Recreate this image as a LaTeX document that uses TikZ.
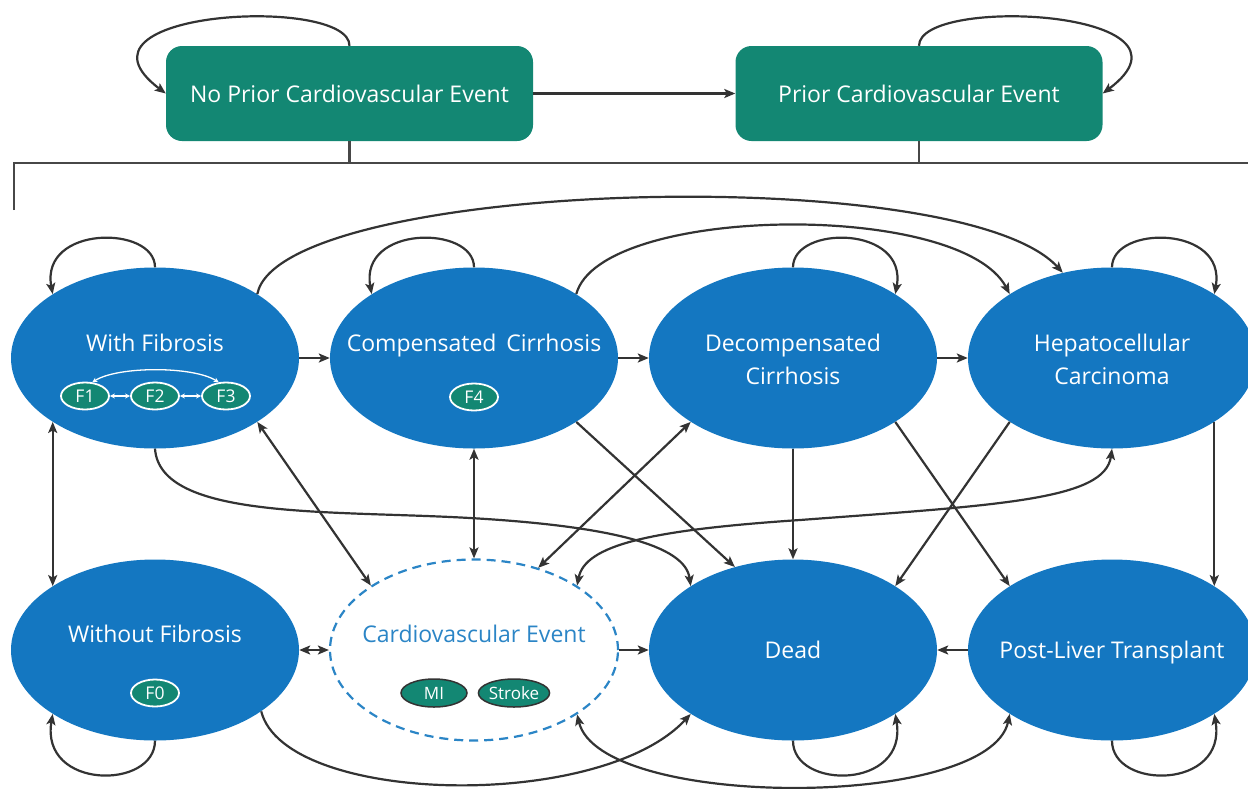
\documentclass[tikz,border=0pt]{standalone}
\usepackage{fontspec}
\setmainfont{Open Sans}
\usetikzlibrary{shapes.geometric,arrows.meta}
\definecolor{tealbox}{HTML}{138773}
\definecolor{blueell}{HTML}{1477C1}
\definecolor{cvblue}{HTML}{2B85C6}
\definecolor{connc}{HTML}{333333}
\begin{document}
\begin{tikzpicture}[x=1pt,y=-1pt,
  >={Stealth[length=11pt,width=9pt,inset=2.5pt]},
  boxnode/.style={rectangle, rounded corners=16pt, fill=tealbox, minimum width=367pt, minimum height=95pt, inner sep=0pt, text=white, font=\fontsize{23}{27}\selectfont},
  bigell/.style={ellipse, fill=blueell, minimum width=288pt, minimum height=181pt, inner sep=0pt},
  lbl/.style={text=white, font=\fontsize{23}{27}\selectfont, inner sep=0pt, anchor=base},
  fsmall/.style={ellipse, fill=tealbox, draw=white, line width=1.8pt, minimum width=48pt, minimum height=27pt, inner sep=0pt, text=white, font=\fontsize{17.5}{20}\selectfont},
  cvsmall/.style={ellipse, fill=tealbox, draw=connc, line width=1.5pt, minimum height=28pt, inner sep=0pt, text=white, font=\fontsize{17}{20}\selectfont},
  cline/.style={draw=connc, line width=2.2pt},
  bline/.style={draw=connc!90, line width=2.2pt},
  fline/.style={draw=white, line width=1.3pt, >={Stealth[length=5pt,width=5pt]}}
]
\useasboundingbox (0,0) rectangle (1248,788);

% top boxes
\node[boxnode] (np) at (349.5,93.5) {No Prior Cardiovascular Event};
\node[boxnode] (pce) at (919,93.5) {Prior Cardiovascular Event};

% bracket
\coordinate (bl) at (14,163);
\coordinate (bld) at (14,210);
\coordinate (br) at (1248,163);
\draw[bline] (bld) -- (bl) -- (br);
\draw[bline] (np.south) -- (np.south |- bl);
\draw[bline] (pce.south) -- (pce.south |- bl);

\draw[cline,->] (np.east) -- (pce.west);
\draw[cline,->] (np.north) .. controls (350,-5) and (55,10) .. (np.west);
\draw[cline,->] (pce.north) .. controls (919,-5) and (1214,10) .. (pce.east);

% ellipses
\node[bigell] (wf) at (155,358) {};
\node[bigell] (cc) at (474,358) {};
\node[bigell] (dc) at (793,358) {};
\node[bigell] (hcc) at (1112,358) {};
\node[bigell] (wof) at (155,650) {};
\node[ellipse, fill=white, draw=cvblue, line width=2.2pt, dash pattern=on 9pt off 6pt, minimum width=288pt, minimum height=181pt, inner sep=0pt] (cve) at (474,650) {};
\node[bigell] (dead) at (793,650) {};
\node[bigell] (plt) at (1112,650) {};

% labels (baselines)
\node[lbl] (twf) at (155,351) {With Fibrosis};
\node[lbl] (tcc) at (474,351) {Compensated\, Cirrhosis};
\node[lbl] (tdc1) at (793,351) {Decompensated};
\node[lbl] (tdc2) at (793,384) {Cirrhosis};
\node[lbl] (th1) at (1112,351) {Hepatocellular};
\node[lbl] (th2) at (1112,384) {Carcinoma};
\node[lbl] (twof) at (155,642) {Without Fibrosis};
\node[lbl, text=cvblue] (tcve) at (474,642) {Cardiovascular Event};
\node[lbl] (tdead) at (793,658) {Dead};
\node[lbl] (tplt) at (1112,658) {Post-Liver Transplant};

% small states
\node[fsmall] (f1) at (85,396) {F1};
\node[fsmall] (f2) at (155,396) {F2};
\node[fsmall] (f3) at (226,396) {F3};
\node[fsmall] (f4) at (474,397) {F4};
\node[fsmall] (f0) at (155,693) {F0};
\node[cvsmall, minimum width=66pt] (mi) at (434,693) {MI};
\node[cvsmall, minimum width=70pt] (stroke) at (514,693) {Stroke};

\draw[fline,<->] (f1) -- (f2);
\draw[fline,<->] (f2) -- (f3);
\draw[fline,<->] (f1.62) .. controls (118,366) and (193,366) .. (f3.118);

% row 1 horizontal
\draw[cline,->] (wf.east) -- (cc.west);
\draw[cline,->] (cc.east) -- (dc.west);
\draw[cline,->] (dc.east) -- (hcc.west);
% row 2 horizontal
\draw[cline,->] (cve.east) -- (dead.west);
\draw[cline,->] (plt.west) -- (dead.east);
\draw[cline,<->] (wof.east) -- (cve.west);

% row 1 self loops
\draw[cline,->] (wf.north) .. controls (155,225) and (40,225) .. (wf.148);
\draw[cline,->] (cc.north) .. controls (474,225) and (359,225) .. (cc.148);
\draw[cline,->] (dc.north) .. controls (793,225) and (908,225) .. (dc.32);
\draw[cline,->] (hcc.north) .. controls (1112,225) and (1227,225) .. (hcc.32);
% row 2 self loops
\draw[cline,->] (wof.south) .. controls (155,790) and (40,790) .. (wof.212);
\draw[cline,->] (dead.south) .. controls (793,790) and (908,790) .. (dead.328);
\draw[cline,->] (plt.south) .. controls (1112,790) and (1227,790) .. (plt.328);

% arcs over the top
\draw[cline,->] (wf.32) .. controls (280,180) and (960,160) .. (hcc.120);
\draw[cline,->] (cc.32) .. controls (600,205) and (960,200) .. (hcc.148);

% between rows
\draw[cline,<->] (wf.212) -- (wof.148);
\draw[cline,<->] (wf.328) -- (cve.148);
\draw[cline,<->] (cc.south) -- (cve.north);
\draw[cline,<->] (dc.212) -- (cve.52);
\draw[cline,->] (cc.328) -- (dead.125);
\draw[cline,->] (dc.south) -- (dead.north);
\draw[cline,->] (hcc.212) -- (dead.32);
\draw[cline,->] (dc.328) -- (plt.148);
\draw[cline,->] (hcc.328) -- (plt.32);

\draw[cline,->] (wf.south) .. controls (160,520) and (330,510) .. (470,518) .. controls (610,526) and (685,545) .. (dead.148);
\draw[cline,<->] (hcc.south) .. controls (1105,500) and (1000,505) .. (800,520) .. controls (650,530) and (585,545) .. (cve.32);

% bottom arcs
\draw[cline,->] (wof.330) .. controls (285,805) and (600,812) .. (dead.212);
\draw[cline,<->] (cve.328) .. controls (600,810) and (990,810) .. (plt.212);
\end{tikzpicture}
\end{document}
